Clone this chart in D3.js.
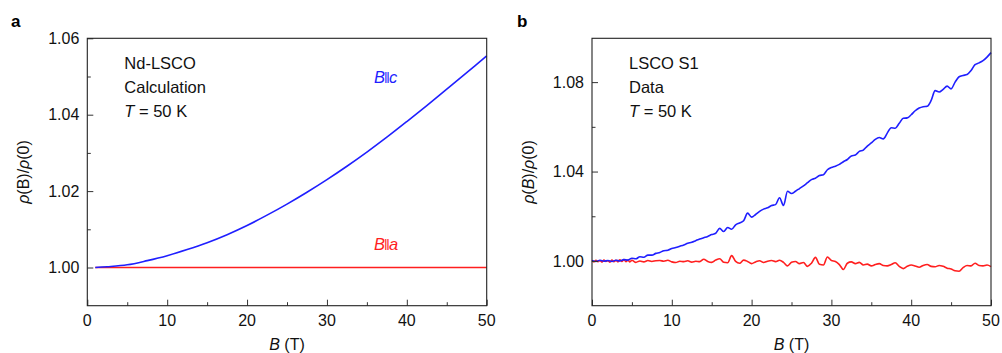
<!DOCTYPE html>
<html>
<head>
<meta charset="utf-8">
<script src="https://cdn.jsdelivr.net/npm/d3@7"></script>
<style>
  html, body { margin: 0; padding: 0; background: #fff; }
  svg { display: block; font-family: "Liberation Sans", Arial, Helvetica, sans-serif; }
</style>
</head>
<body>
<svg id="chart" width="1002" height="353"></svg>
<script>
// ---- Panel a: Nd-LSCO calculation, T = 50 K ----
const calcB = [1, 2.5, 5, 7.5, 10, 12.5, 15, 17.5, 20, 22.5, 25, 27.5, 30, 32.5, 35, 37.5, 40, 42.5, 45, 47.5, 50];
const calcBc = [1.0000, 1.0002, 1.0007, 1.0018, 1.0031, 1.0047, 1.0065, 1.0086, 1.0110, 1.0137, 1.0166,
                1.0197, 1.0230, 1.0265, 1.0302, 1.0341, 1.0382, 1.0424, 1.0467, 1.0510, 1.0554];
const calcBaB = [1, 50];
const calcBa = [1.0000, 1.0000];

// ---- Panel b: LSCO S1 data, T = 50 K ----
const dataBcB = d3.range(0, 50.001, 0.5);
const dataBc = [
  1.0002, 0.9998, 1.0003, 0.9999, 1.0002, 0.9998, 1.0003, 1.0000, 1.0006, 1.0004,
  1.0012, 1.0010, 1.0019, 1.0017, 1.0026, 1.0026, 1.0034, 1.0038, 1.0046, 1.0048,
  1.0056, 1.0060, 1.0066, 1.0072, 1.0079, 1.0084, 1.0091, 1.0098, 1.0104, 1.0110,
  1.0118, 1.0124, 1.0146, 1.0132, 1.0150, 1.0142, 1.0162, 1.0170, 1.0180, 1.0214,
  1.0196, 1.0208, 1.0222, 1.0232, 1.0238, 1.0248, 1.0252, 1.0283, 1.0248, 1.0312,
  1.0302, 1.0312, 1.0324, 1.0336, 1.0350, 1.0364, 1.0370, 1.0382, 1.0386, 1.0408,
  1.0418, 1.0424, 1.0432, 1.0444, 1.0454, 1.0470, 1.0474, 1.0490, 1.0496, 1.0514,
  1.0528, 1.0544, 1.0552, 1.0546, 1.0572, 1.0596, 1.0594, 1.0616, 1.0638, 1.0640,
  1.0654, 1.0672, 1.0684, 1.0690, 1.0692, 1.0718, 1.0762, 1.0756, 1.0768, 1.0782,
  1.0770, 1.0800, 1.0824, 1.0830, 1.0834, 1.0852, 1.0878, 1.0886, 1.0896, 1.0912,
  1.0932
];
const dataBaB = [
  0, 0.25, 0.5, 0.75, 1, 1.25, 1.5, 1.75, 2, 2.25, 2.5, 2.75, 3, 3.25, 3.5, 3.75, 4, 4.25, 4.5, 4.75,
  5, 5.5, 6, 6.5, 7, 7.5, 8, 8.5, 9, 9.5, 10, 10.5, 11, 11.5, 12, 12.5, 13, 13.5, 14, 14.5,
  15, 15.5, 16, 16.5, 17, 17.5, 18, 18.5, 19, 19.5, 20, 20.5, 21, 21.5, 22, 22.5, 23, 23.5, 24, 24.5,
  25, 25.5, 26, 26.5, 27, 27.5, 28, 28.5, 29, 29.5, 30, 30.5, 31, 31.5, 32, 32.5, 33, 33.5, 34, 34.5,
  35, 35.5, 36, 36.5, 37, 37.5, 38, 38.5, 39, 39.5, 40, 40.5, 41, 41.5, 42, 42.5, 43, 43.5, 44, 44.5,
  45, 45.5, 46, 46.5, 47, 47.5, 48, 48.5, 49, 49.5, 50
];
const dataBa = [
  1.0002, 0.9996, 1.0003, 0.9997, 1.0002, 0.9995, 1.0004, 0.9998, 1.0001, 0.9995,
  1.0004, 0.9997, 1.0003, 0.9996, 1.0005, 0.9998, 1.0006, 0.9997, 1.0004, 0.9996,
  1.0003, 0.9994, 1.0000, 0.9996, 1.0002, 0.9998, 1.0001, 1.0002, 0.9999, 1.0003,
  0.9996, 0.9993, 0.9999, 0.9997, 1.0001, 0.9995, 0.9999, 0.9997, 1.0008, 0.9998,
  0.9994, 1.0004, 1.0010, 0.9994, 0.9992, 1.0024, 0.9998, 0.9990, 1.0004, 0.9998,
  0.9988, 0.9996, 1.0001, 0.9993, 0.9999, 1.0002, 0.9997, 1.0003, 0.9994, 0.9978,
  0.9994, 0.9998, 0.9988, 0.9993, 0.9976, 0.9990, 1.0016, 0.9985, 0.9982, 1.0018,
  1.0002, 0.9998, 0.9984, 0.9962, 0.9990, 0.9996, 0.9988, 0.9994, 0.9982, 0.9986,
  0.9978, 0.9984, 0.9988, 0.9980, 0.9978, 0.9984, 0.9992, 0.9976, 0.9966, 0.9976,
  0.9982, 0.9978, 0.9972, 0.9980, 0.9984, 0.9976, 0.9974, 0.9980, 0.9976, 0.9968,
  0.9964, 0.9956, 0.9954, 0.9970, 0.9980, 0.9978, 0.9990, 0.9980, 0.9978, 0.9982,
  0.9975
];

// Axis tick values
const xMajor = [0, 10, 20, 30, 40, 50];
const xMinor = [5, 15, 25, 35, 45];
const aYMajor = [1.00, 1.02, 1.04, 1.06];
const aYMinor = [1.01, 1.03, 1.05];
const bYMajor = [1.00, 1.04, 1.08];
const bYMinor = [1.02, 1.06];

const BLUE = "#1f1fff";
const RED = "#ff1f1f";
const svg = d3.select("#chart");

function panel(opt) {
  const g = svg.append("g");
  const x = d3.scaleLinear().domain([0, 50]).range([opt.left, opt.right]);
  const y = d3.scaleLinear().domain(opt.yDomain).range([opt.bottom, opt.top]);

  // curves
  const line = d3.line().x(d => x(d[0])).y(d => y(d[1])).curve(opt.curve);
  opt.series.forEach(s => {
    g.append("path")
      .datum(s.xs.map((b, i) => [b, s.ys[i]]))
      .attr("d", line)
      .attr("fill", "none")
      .attr("stroke", s.color)
      .attr("stroke-width", 1.6)
      .attr("stroke-linejoin", "round");
  });

  // inward ticks via d3 axes
  const axX = g.append("g").attr("transform", `translate(0,${opt.bottom})`)
    .call(d3.axisTop(x).tickValues(xMajor).tickSize(6).tickFormat(""));
  const axXm = g.append("g").attr("transform", `translate(0,${opt.bottom})`)
    .call(d3.axisTop(x).tickValues(xMinor).tickSize(3.5).tickFormat(""));
  const axY = g.append("g").attr("transform", `translate(${opt.left},0)`)
    .call(d3.axisRight(y).tickValues(opt.yMajor).tickSize(6).tickFormat(""));
  const axYm = g.append("g").attr("transform", `translate(${opt.left},0)`)
    .call(d3.axisRight(y).tickValues(opt.yMinor).tickSize(3.5).tickFormat(""));
  [axX, axXm, axY, axYm].forEach(a => {
    a.select(".domain").remove();
    a.selectAll("line").attr("stroke", "#333").attr("stroke-width", 1);
  });

  // tick labels
  g.selectAll(".xl").data(xMajor).enter().append("text")
    .attr("x", d => x(d)).attr("y", opt.bottom + 20)
    .attr("text-anchor", "middle").attr("font-size", 16).attr("fill", "#111")
    .text(d => d);
  g.selectAll(".yl").data(opt.yMajor).enter().append("text")
    .attr("x", opt.left - 8).attr("y", d => y(d)).attr("dy", "0.35em")
    .attr("text-anchor", "end").attr("font-size", 16).attr("fill", "#111")
    .text(d => d.toFixed(2));

  // frame
  g.append("rect")
    .attr("x", opt.left).attr("y", opt.top)
    .attr("width", opt.right - opt.left).attr("height", opt.bottom - opt.top)
    .attr("fill", "none").attr("stroke", "#222").attr("stroke-width", 1.1);

  // axis titles
  const xt = g.append("text")
    .attr("x", (opt.left + opt.right) / 2).attr("y", opt.bottom + 44)
    .attr("text-anchor", "middle").attr("font-size", 16).attr("fill", "#111");
  xt.append("tspan").attr("font-style", "italic").text("B");
  xt.append("tspan").text(" (T)");

  const yt = g.append("text")
    .attr("transform", `translate(${opt.yTitleX},${(opt.top + opt.bottom) / 2}) rotate(-90)`)
    .attr("text-anchor", "middle").attr("font-size", 16).attr("fill", "#111");
  yt.append("tspan").attr("font-style", "italic").text("ρ");
  yt.append("tspan").text("(");
  yt.append("tspan").attr("font-style", opt.italicB ? "italic" : "normal").text("B");
  yt.append("tspan").text(")/");
  yt.append("tspan").attr("font-style", "italic").text("ρ");
  yt.append("tspan").text("(0)");

  // panel letter
  g.append("text").attr("x", opt.letterX).attr("y", 27)
    .attr("font-size", 17).attr("font-weight", "bold").attr("fill", "#000")
    .text(opt.letter);

  // annotation block
  opt.notes.forEach((n, i) => {
    const t = g.append("text").attr("x", opt.left + 37).attr("y", 69 + i * 24)
      .attr("font-size", 16.5).attr("fill", "#111");
    if (n === "T") {
      t.append("tspan").attr("font-style", "italic").text("T");
      t.append("tspan").text(" = 50 K");
    } else t.text(n);
  });

  return { g, x, y };
}

const pa = panel({
  left: 87.3, right: 486.7, top: 38.3, bottom: 305.7,
  yDomain: [0.99, 1.06], yMajor: aYMajor, yMinor: aYMinor,
  curve: d3.curveCatmullRom,
  series: [
    { xs: calcBaB, ys: calcBa, color: RED },
    { xs: calcB, ys: calcBc, color: BLUE }
  ],
  yTitleX: 29, letter: "a", letterX: 11, italicB: false,
  notes: ["Nd-LSCO", "Calculation", "T"]
});

const pb = panel({
  left: 592, right: 991, top: 38.3, bottom: 305.7,
  yDomain: [0.98, 1.0996], yMajor: bYMajor, yMinor: bYMinor,
  curve: d3.curveMonotoneX,
  series: [
    { xs: dataBaB, ys: dataBa, color: RED },
    { xs: dataBcB, ys: dataBc, color: BLUE }
  ],
  yTitleX: 534, letter: "b", letterX: 517, italicB: true,
  notes: ["LSCO S1", "Data", "T"]
});

// field-direction labels in panel a
function dirLabel(p, xv, yv, axis, color) {
  const t = p.g.append("text").attr("x", p.x(xv)).attr("y", p.y(yv))
    .attr("font-size", 16.5).attr("fill", color);
  t.append("tspan").attr("font-style", "italic").text("B");
  t.append("tspan").attr("dx", -1).attr("font-size", 14).text("‖");
  t.append("tspan").attr("dx", -1).attr("font-style", "italic").text(axis);
}
dirLabel(pa, 35.9, 1.0484, "c", BLUE);
dirLabel(pa, 35.9, 1.0047, "a", RED);
</script>
</body>
</html>
